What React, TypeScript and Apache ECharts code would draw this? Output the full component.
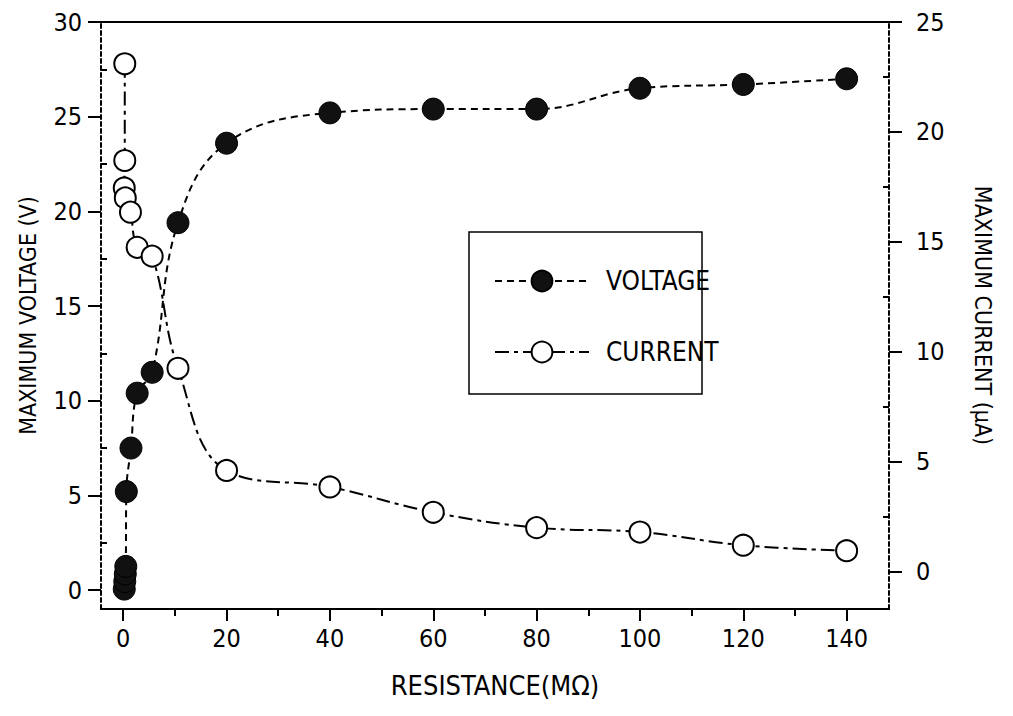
import React, { useEffect, useRef } from "react";
import * as echarts from "echarts";

// ---- data ----
const resistanceV = [0.2, 0.3, 0.4, 0.5, 0.6, 1.5, 2.7, 5.6, 10.6, 20, 40, 60, 80, 100, 120, 140];
const voltage = [0.05, 0.45, 0.85, 1.25, 5.2, 7.5, 10.4, 11.5, 19.4, 23.6, 25.2, 25.4, 25.4, 26.5, 26.7, 27.0];

const resistanceI = [0.3, 0.3, 0.2, 0.4, 1.4, 2.7, 5.6, 10.6, 20, 40, 60, 80, 100, 120, 140];
const current = [23.1, 18.7, 17.45, 17.0, 16.35, 14.75, 14.35, 9.25, 4.6, 3.85, 2.7, 2.0, 1.8, 1.2, 0.95];

const xMajorTicks = [0, 20, 40, 60, 80, 100, 120, 140];
const xMinorTicks = [10, 30, 50, 70, 90, 110, 130];
const leftMajorTicks = [0, 5, 10, 15, 20, 25, 30];
const leftMinorTicks = [2.5, 7.5, 12.5, 17.5, 22.5, 27.5];
const rightMajorTicks = [0, 5, 10, 15, 20, 25];
const rightMinorTicks = [2.5, 7.5, 12.5, 17.5, 22.5];

const seriesNames = ["VOLTAGE", "CURRENT"];
const xTitle = "RESISTANCE(MΩ)";
const leftTitle = "MAXIMUM VOLTAGE (V)";
const rightTitle = "MAXIMUM CURRENT (μA)";

const FONT = "'Liberation Sans Narrow', 'DejaVu Sans Condensed', 'Liberation Sans', sans-serif";

export default function App() {
  const ref = useRef<HTMLDivElement>(null);
  useEffect(() => {
    if (!ref.current) return;
    const chart = echarts.init(ref.current, undefined, { renderer: "svg" });
    const X_MIN = -4.3;
    const X_MAX = 148.2;
    const L_MIN = -1.0;
    const L_MAX = 30;
    const R_MIN = -1.7;
    const R_MAX = 25;
    const black = "#000";
    const label = { color: black, fontFamily: FONT, fontSize: 25 };
    const hiddenAxis = {
      axisLine: { show: false, onZero: false },
      axisLabel: { show: false },
      splitLine: { show: false },
    };
    chart.setOption({
      animation: false,
      backgroundColor: "#fff",
      grid: { left: 101, right: 124, top: 22, bottom: 107, containLabel: false, outerBoundsMode: "none" },
      legend: {
        data: seriesNames,
        orient: "vertical",
        left: 489,
        top: 263,
        itemWidth: 94,
        itemHeight: 26,
        itemGap: 45,
        textStyle: { color: black, fontFamily: FONT, fontSize: 26, padding: [0, 0, 0, 12] },
      },
      xAxis: [
        {
          type: "value",
          position: "bottom",
          min: X_MIN,
          max: X_MAX,
          name: xTitle,
          nameLocation: "middle",
          nameGap: 63,
          nameTextStyle: { color: black, fontFamily: FONT, fontSize: 27 },
          axisLine: { show: true, onZero: false, lineStyle: { color: black, width: 2 } },
          axisTick: { show: true, customValues: xMajorTicks, length: 12, lineStyle: { color: black, width: 2 } },
          axisLabel: { ...label, customValues: xMajorTicks, margin: 17 },
          splitLine: { show: false },
        },
        {
          type: "value",
          position: "bottom",
          min: X_MIN,
          max: X_MAX,
          ...hiddenAxis,
          axisTick: { show: true, customValues: xMinorTicks, length: 7, lineStyle: { color: black, width: 2 } },
        },
        {
          type: "value",
          position: "top",
          min: X_MIN,
          max: X_MAX,
          axisLine: { show: true, onZero: false, lineStyle: { color: black, width: 2 } },
          axisTick: { show: false },
          axisLabel: { show: false },
          splitLine: { show: false },
        },
      ],
      yAxis: [
        {
          type: "value",
          position: "left",
          min: L_MIN,
          max: L_MAX,
          name: leftTitle,
          nameLocation: "middle",
          nameRotate: 90,
          nameGap: 62,
          nameTextStyle: { color: black, fontFamily: FONT, fontSize: 23 },
          axisLine: { show: true, onZero: false, lineStyle: { color: black, width: 2, type: [4, 3] } },
          axisTick: { show: true, customValues: leftMajorTicks, length: 13, lineStyle: { color: black, width: 2 } },
          axisLabel: { ...label, customValues: leftMajorTicks, margin: 19 },
          splitLine: { show: false },
        },
        {
          type: "value",
          position: "left",
          min: L_MIN,
          max: L_MAX,
          ...hiddenAxis,
          axisTick: { show: true, inside: true, customValues: leftMinorTicks, length: 6, lineStyle: { color: black, width: 2 } },
        },
        {
          type: "value",
          position: "right",
          min: R_MIN,
          max: R_MAX,
          name: rightTitle,
          nameLocation: "middle",
          nameRotate: -90,
          nameGap: 82,
          nameTextStyle: { color: black, fontFamily: FONT, fontSize: 23 },
          axisLine: { show: true, onZero: false, lineStyle: { color: black, width: 2, type: [4, 3] } },
          axisTick: { show: true, customValues: rightMajorTicks, length: 13, lineStyle: { color: black, width: 2 } },
          axisLabel: { ...label, customValues: rightMajorTicks, margin: 27 },
          splitLine: { show: false },
        },
        {
          type: "value",
          position: "right",
          min: R_MIN,
          max: R_MAX,
          ...hiddenAxis,
          axisTick: { show: true, inside: true, customValues: rightMinorTicks, length: 6, lineStyle: { color: black, width: 2 } },
        },
      ],
      graphic: [
        {
          type: "rect",
          shape: { x: 469, y: 232, width: 233, height: 162 },
          style: { fill: "transparent", stroke: black, lineWidth: 1.5 },
          z: 1,
        },
      ],
      series: [
        {
          name: seriesNames[0],
          type: "line",
          xAxisIndex: 0,
          yAxisIndex: 0,
          data: resistanceV.map((r, i) => [r, voltage[i]]),
          smooth: 0.4,
          symbol: "circle",
          symbolSize: 22,
          lineStyle: { color: black, width: 2, type: [7, 5] },
          itemStyle: { color: "#111", borderColor: black, borderWidth: 1 },
          z: 3,
        },
        {
          name: seriesNames[1],
          type: "line",
          xAxisIndex: 0,
          yAxisIndex: 2,
          data: resistanceI.map((r, i) => [r, current[i]]),
          smooth: 0.4,
          symbol: "circle",
          symbolSize: 21,
          lineStyle: { color: black, width: 2, type: [14, 5, 4, 5] },
          itemStyle: { color: "#fff", borderColor: black, borderWidth: 2 },
          z: 4,
        },
      ],
    });
    return () => chart.dispose();
  }, []);
  return (
    <div
      ref={ref}
      style={{ position: "fixed", left: 0, top: 0, width: 1013, height: 716, background: "#fff" }}
    />
  );
}
